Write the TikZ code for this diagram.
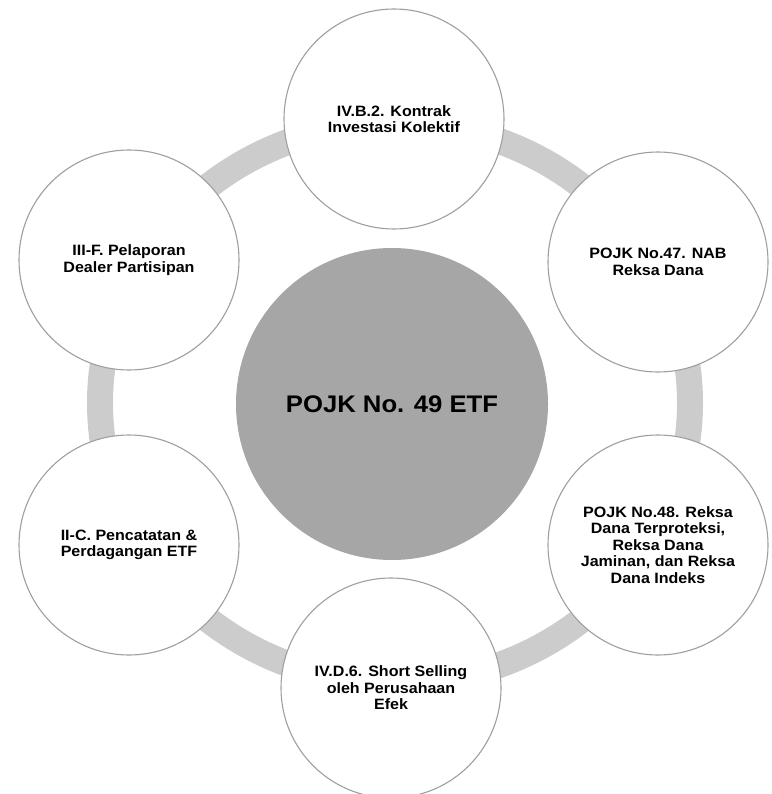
\documentclass[tikz,border=0pt]{standalone}
\usepackage{fontspec}
\setmainfont[FakeStretch=1.07]{Liberation Sans}
\begin{document}
\begin{tikzpicture}[x=1pt,y=-1pt,
  ring/.style={draw=gray!40,line width=26pt},
  topic/.style={circle,draw=gray!75,line width=1.1pt,fill=white,minimum size=220pt,inner sep=0pt,
    align=center,font=\fontsize{15}{16.5}\selectfont\bfseries},
  hub/.style={circle,fill=black!35,minimum size=312pt,inner sep=0pt,
    font=\fontsize{24}{28}\selectfont\bfseries}]
\useasboundingbox (0,0) rectangle (771,794);
\draw[ring] (395,403) ellipse [x radius=295pt, y radius=280pt];
\node[topic] (t)  at (394,119) {IV.B.2. Kontrak\\Investasi Kolektif};
\node[topic] (tr) at (658,262) {POJK No.47. NAB\\Reksa Dana};
\node[topic] (br) at (658,545) {POJK No.48. Reksa\\Dana Terproteksi,\\Reksa Dana\\Jaminan, dan Reksa\\Dana Indeks};
\node[topic] (b)  at (391,688) {IV.D.6. Short Selling\\oleh Perusahaan\\Efek};
\node[topic] (bl) at (129,545) {II-C. Pencatatan \&\\Perdagangan ETF};
\node[topic] (tl) at (129,260) {III-F. Pelaporan\\Dealer Partisipan};
\node[hub] (c) at (392,404) {POJK No. 49 ETF};
\end{tikzpicture}
\end{document}
